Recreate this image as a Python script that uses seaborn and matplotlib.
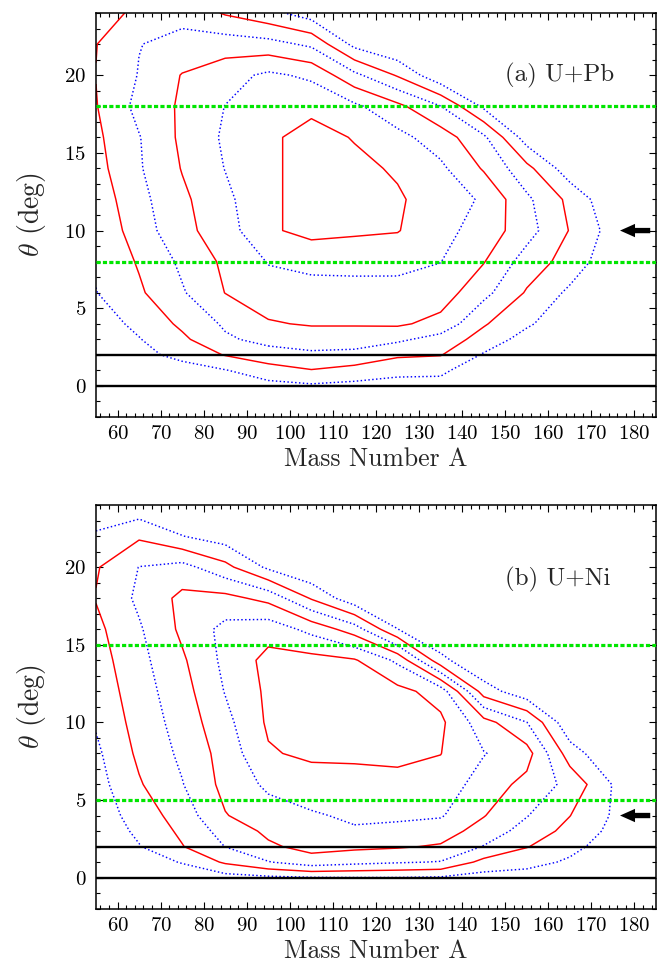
import numpy as np
import matplotlib
matplotlib.use("Agg")
import matplotlib.pyplot as plt
import seaborn as sns

# grid the yields were read on
mass_a = [55, 65, 75, 85, 95, 105, 115, 125, 135, 145, 155, 165, 175, 185]
theta = [-2, 0, 1, 2, 3, 4, 6, 8, 10, 12, 14, 16, 18, 20, 22, 24]

# contour band (1 = outermost line ... 6 = innermost), one row per theta
upb_yield = [
    [0, 0, 0, 0, 0, 0, 0, 0, 0, 0, 0, 0, 0, 0],
    [0, 0, 0.1, 0.4, 0.7, 0.85, 0.7, 0.6, 0.75, 0.2, 0, 0, 0, 0],
    [0, 0.2, 0.5, 0.95, 1.55, 1.95, 1.7, 1.3, 1.15, 0.5, 0, 0, 0, 0],
    [0, 0.65, 1.35, 2.05, 2.6, 2.85, 2.6, 2.15, 2.05, 0.9, 0.2, 0, 0, 0],
    [0.2, 0.95, 1.8, 2.85, 3.3, 3.4, 3.7, 3.2, 2.6, 1.6, 0.6, 0, 0, 0],
    [0.5, 1.25, 2.2, 3.15, 3.9, 4.1, 4.05, 4.15, 3.7, 2.1, 1.15, 0.3, 0, 0],
    [0.97, 1.85, 2.9, 4.02, 4.6, 4.6, 4.6, 4.65, 4.5, 3.3, 1.9, 0.8, 0, 0],
    [1.15, 2.1, 3.2, 4.2, 5.05, 5.3, 5.35, 5.3, 5.02, 4.05, 2.55, 1.6, 0.3, 0],
    [1.2, 2.5, 3.7, 4.55, 5.85, 6.3, 6.15, 6.05, 5.3, 4.6, 3.4, 1.95, 0.6, 0],
    [1.4, 2.7, 3.8, 4.75, 5.85, 6.3, 6.2, 6.1, 5.6, 4.85, 3.2, 1.75, 0.2, 0],
    [1.65, 2.9, 4.05, 5.03, 5.85, 6.3, 6.2, 5.9, 5.2, 3.9, 2.3, 0.4, 0, 0],
    [1.8, 2.95, 4.2, 5.15, 5.85, 6.3, 5.95, 5.3, 4.5, 3.2, 0.5, 0, 0, 0],
    [1.95, 3.3, 4.15, 5.02, 5.6, 5.8, 5.2, 4.25, 3.02, 0.8, 0, 0, 0, 0],
    [2.02, 3.05, 4.05, 4.6, 5.2, 4.8, 3.25, 1.9, 0.2, 0, 0, 0, 0, 0],
    [1.97, 2.97, 3.3, 3.5, 3.35, 2.8, 0.7, 0, 0, 0, 0, 0, 0, 0],
    [1.7, 2.15, 2.7, 1.9, 1.3, 0.5, 0, 0, 0, 0, 0, 0, 0, 0],
]

uni_yield = [
    [0, 0, 0, 0, 0, 0, 0, 0, 0, 0, 0, 0, 0, 0],
    [0, 0.3, 0.5, 0.6, 0.8, 0.95, 0.98, 0.98, 0.9, 0.6, 0.55, 0.3, 0, 0],
    [0.1, 0.6, 1.05, 2.15, 2.95, 3.6, 3.3, 3.1, 2.95, 1.7, 1.35, 0.85, 0.2, 0],
    [0.2, 0.95, 1.95, 3.02, 3.85, 4.3, 4.2, 4.1, 3.9, 2.95, 2.05, 1.3, 0.5, 0],
    [0.3, 1.2, 2.2, 3.4, 4.2, 4.6, 4.9, 4.7, 4.45, 3.6, 2.6, 1.7, 0.75, 0],
    [0.4, 1.45, 2.45, 3.95, 4.55, 4.9, 5.15, 5.2, 5.1, 4.05, 3.05, 2.02, 0.9, 0],
    [0.6, 1.9, 2.95, 4.3, 5.2, 5.5, 5.7, 5.75, 5.6, 4.55, 3.7, 2.7, 0.95, 0],
    [0.8, 2.2, 3.2, 4.4, 5.9, 6.2, 6.15, 6.2, 6.02, 5.05, 4.4, 1.5, 0.1, 0],
    [1.1, 2.4, 3.4, 4.7, 6.15, 6.25, 6.2, 6.3, 6.2, 4.4, 3.02, 0.2, 0, 0],
    [1.35, 2.55, 3.6, 5.05, 6.2, 6.35, 6.3, 6.3, 5.6, 1.5, 0.3, 0, 0, 0],
    [1.55, 2.7, 3.85, 5.25, 6.3, 6.35, 6.1, 4.8, 1.3, 0, 0, 0, 0, 0],
    [1.75, 2.88, 4.2, 5.3, 5.6, 4.7, 3.5, 1.02, 0, 0, 0, 0, 0, 0],
    [2.05, 3.2, 4.25, 4.3, 3.7, 1.9, 0.3, 0, 0, 0, 0, 0, 0, 0],
    [1.9, 3.02, 3.35, 2.3, 0.8, 0, 0, 0, 0, 0, 0, 0, 0, 0],
    [1.1, 1.85, 1.02, 0.5, 0, 0, 0, 0, 0, 0, 0, 0, 0, 0],
    [0.5, 0.3, 0.2, 0, 0, 0, 0, 0, 0, 0, 0, 0, 0, 0],
]

levels = [1, 2, 3, 4, 5, 6]
level_colors = ["#0000ff", "#ff0000", "#0000ff", "#ff0000", "#0000ff", "#ff0000"]
level_styles = ["dotted", "solid", "dotted", "solid", "dotted", "solid"]

panel_labels = ["(a) U+Pb", "(b) U+Ni"]
label_theta = [20.0, 19.2]
black_lines = [0, 2]
green_lines = [[18, 8], [15, 5]]
arrow_theta = [10, 4]

sns.set_theme(style="ticks")
plt.rcParams.update({
    "font.family": ["cmr10"],
    "mathtext.fontset": "cm",
    "axes.formatter.use_mathtext": True,
    "axes.linewidth": 1.1,
    "axes.edgecolor": "black",
    "xtick.color": "black",
    "ytick.color": "black",
})

fig = plt.figure(figsize=(6.57, 9.64), dpi=100)
ax_top = fig.add_axes([0.1461, 0.5674, 0.8524, 0.4191])
ax_bot = fig.add_axes([0.1461, 0.0574, 0.8524, 0.4187])

for ax, z, label, ly, greens, arr in zip([ax_top, ax_bot], [upb_yield, uni_yield],
                                         panel_labels, label_theta, green_lines, arrow_theta):
    ax.contour(mass_a, theta, np.array(z), levels=levels, colors=level_colors,
               linestyles=level_styles, linewidths=1.05)
    for y in black_lines:
        ax.axhline(y, color="black", lw=1.7, zorder=3)
    for y in greens:
        ax.axhline(y, color="#00e600", lw=2.3, dashes=(1.3, 0.7), zorder=3)
    ax.annotate("", xy=(176, arr), xytext=(184.3, arr),
                arrowprops=dict(arrowstyle="simple,head_length=0.9,head_width=0.8,tail_width=0.32",
                                color="black", lw=0), zorder=4)
    ax.text(150, ly, label, fontsize=18, va="center")

    ax.set_xlim(55, 185)
    ax.set_ylim(-2, 24)
    ax.set_xticks(np.arange(60, 181, 10))
    ax.set_xticks(np.arange(56, 185, 2), minor=True)
    ax.set_yticks([0, 5, 10, 15, 20])
    ax.set_yticks(np.arange(-2, 25, 1), minor=True)
    ax.tick_params(which="both", direction="in", top=True, right=True, labelsize=15, width=0.8)
    ax.tick_params(which="major", length=5)
    ax.tick_params(which="minor", length=2.8)
    ax.tick_params(axis="x", which="major", pad=6)
    ax.tick_params(axis="y", which="major", pad=7)
    ax.set_xlabel("Mass Number A", fontsize=18.5, labelpad=3)
    ax.set_ylabel(r"$\theta$ (deg)", fontsize=20, labelpad=12)
    for s in ax.spines.values():
        s.set_visible(True)

fig.savefig("out.png", dpi=100)
